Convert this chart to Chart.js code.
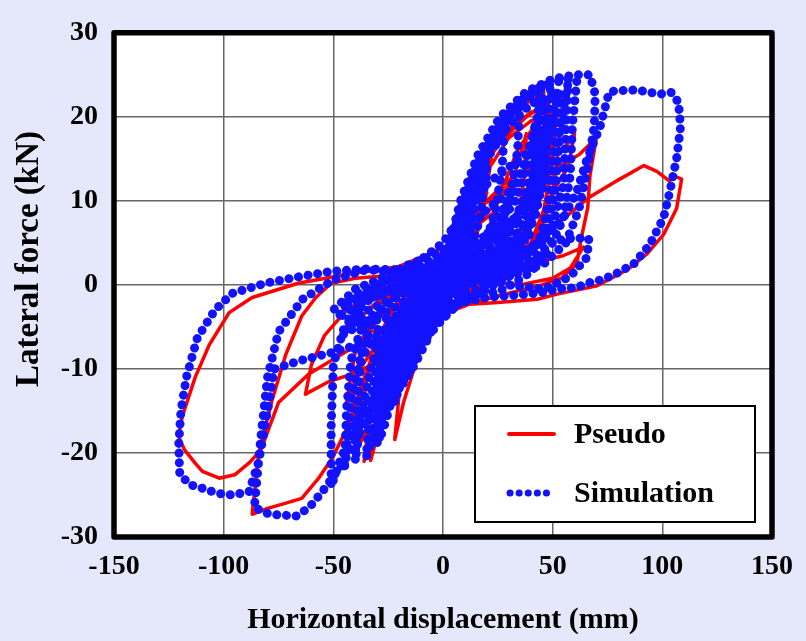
<!DOCTYPE html>
<html>
<head>
<meta charset="utf-8">
<script src="https://cdn.jsdelivr.net/npm/chart.js@4.4.1/dist/chart.umd.min.js"></script>
<style>
  body { margin: 0; background: #e5e8fa; }
  #wrap { width: 806px; height: 641px; }
</style>
</head>
<body>
<div id="wrap"><canvas id="hystChart" width="806" height="641"></canvas></div>
<script>
// Axis ticks
const xTicks = [-150, -100, -50, 0, 50, 100, 150];
const yTicks = [-30, -20, -10, 0, 10, 20, 30];

// Pseudo-dynamic test, [displacement mm, force kN]
const pseudoSmall = [[0,0],[3,2],[6,4.5],[8,6],[6,3.5],[3,1],[0,-0.5],[-3,-2],[-6,-4],[-8,-5.5],[-6,-3],[-3,-1],[0,0.5],
  [5,3.5],[10,7.5],[14,10.5],[12,6],[8,2.5],[3,0.5],[0,-0.5],[-5,-3],[-10,-6.5],[-14,-9],[-12,-5],[-8,-2],[-3,0],[0,1]];
const pseudoCenter = [[6,6],[12,9],[10,5],[5,2],[0,-1],[-6,-4],[-12,-7.5],[-16,-10],[-13,-5],[-8,-2],[-2,1],[4,4]];
const pseudoFill1 = [[-35,-3],[-20,-1],[-5,1.5],[5,4],[15,7],[25,9],[18,5],[8,1],[-2,-3],[-12,-6],[-22,-8],[-30,-6],
  [-38,-4],[-28,-1.5],[-15,0.5],[0,3]];
const pseudoMid1 = [[6,5],[12,9.5],[18,13],[22,15],[19,10],[15,5.5],[10,2.5],[4,0.8],[0,0],[-6,-3],[-12,-7],[-18,-11],
  [-22,-14],[-19,-9],[-15,-5],[-9,-2],[-3,0],[0,1.5]];
const pseudoSlip2 = [[8,5],[18,8],[27,10.5],[33,13.5],[38,18],[37,12.5],[34,8],[27,4.5],[16,2],[4,0],[-6,-2.5],[-14,-5],
  [-20,-8],[-25,-12],[-28,-16],[-27,-11],[-24,-6.5],[-17,-3],[-8,-0.5],[0,1.5]];
const pseudoMid2 = [[5,5],[10,9],[16,13],[21,16.9],[28,19.5],[34,20.8],[40,22],[46,22.9],[42,19],[34,16.1],[26,10.7],
  [20,6],[12,3],[4,1],[0,0],[-8,-3],[-16,-8],[-24,-13.5],[-30,-18],[-33,-20.9],[-30,-15],[-26,-10],[-20,-5.5],[-12,-2.5],[-4,0],[2,2]];
const pseudoFill2 = [[20,3],[10,0],[0,-2],[-10,-4.5],[-20,-7],[-10,-3.5],[0,-0.5],[12,2],[25,4],[38,5.5],[28,2],[15,0],
  [0,-3.5],[-8,-6],[-3,-4],[8,-1.5],[20,0],[32,1.5]];
const pseudoSpike60 = [[10,6.5],[20,10],[30,12.5],[40,14],[50,15.5],[56,16.5],[60,18],[57,14],[51,11.5],[45,7],[38,4],
  [28,1.5],[15,-0.5],[5,-2],[-5,-4.5],[-12,-9],[-18,-14],[-22,-18.4],[-20,-13],[-16,-8],[-10,-4],[-3,-1],[2,1.5]];
const pseudoSlip1 = [[10,4],[22,6],[32,8],[40,11],[46,15],[50,20],[49,14],[46,8],[40,4.5],[28,2],[14,0],[0,-2],
  [-12,-4],[-24,-6],[-33,-9],[-38,-12.5],[-42,-17],[-40,-11],[-36,-6.5],[-28,-3.5],[-15,-1],[0,2]];
const pseudoSpike70 = [[8,6],[18,9.5],[30,11.5],[45,13],[56,14.5],[62,15.5],[66,16.5],[70,17.6],[67,13],[66,9.2],[63,5.5],
  [61,2.5],[54,0.8],[45,0],[30,-1],[15,-2],[0,-3.5],[-12,-6],[-25,-8.5],[-40,-10.5],[-52,-11.5],[-62.7,-13],[-60,-9.5],
  [-54,-6],[-44,-3],[-30,-0.8],[-15,1],[0,3]];
const pseudoMid3 = [[8,8],[16,13],[24,16.5],[32,19],[40,20.5],[48,21.5],[46,16],[42,10],[36,6],[26,3],[12,0.5],[0,-1.5],
  [-10,-4],[-20,-9],[-28,-14],[-34,-19],[-36,-21],[-33,-15],[-28,-9],[-20,-4.5],[-10,-1.5],[0,1]];
const pseudoFill3 = [[-10,-2],[-20,-4],[-30,-7],[-38,-10],[-44,-14],[-40,-8],[-34,-5],[-25,-3],[-15,-2],[-24,-7],
  [-30,-12],[-32,-16],[-29,-10],[-24,-5.5],[-14,-2.5],[0,0.5]];
const pseudoLoop87 = [[10,8],[20,13.5],[30,17.5],[40,19.5],[52,20.5],[50,15],[46,9],[40,5],[30,3],[15,2.5],[0,1.5],
  [-20,1.2],[-40,0.8],[-51,0.2],[-58,-1.5],[-64.4,-3.7],[-71.7,-8.3],[-78,-13.8],[-84,-20],[-87,-27.3],[-80,-26.6],
  [-72,-26],[-64.4,-25.4],[-56.7,-23],[-50.7,-20.7],[-41.7,-16],[-32.6,-9.5],[-22,-5],[-10,-1.5],[0,1]];
const pseudoMid4 = [[8,8],[16,13],[26,17],[38,20],[50,22],[55,22.5],[53,17],[50,11],[44,6],[35,3],[20,1.5],[5,0],
  [-5,-2],[-15,-6],[-25,-11],[-33,-16],[-38,-19],[-36,-13],[-32,-7.5],[-24,-3.5],[-12,0],[0,3]];
const pseudoHook = [[10,4],[25,3],[40,2.5],[55,3.5],[64,4.5],[58,2],[50,0.8],[35,0],[20,0.5],[10,3]];
const pseudoFinal = [[20,11],[12,7],[1,4.5],[-20,2.2],[-45,1.2],[-66,0.2],[-87,-1.5],[-97.5,-3.3],[-106.5,-7.1],
  [-113,-11],[-118.8,-15.6],[-120.6,-18],[-117.9,-19.6],[-113,-21.2],[-109.7,-22.2],[-102,-23],[-95,-22.6],[-88,-21.1],
  [-83,-19.6],[-75,-14],[-61.2,-10.6],[-49,-8.7],[-35,-6.5],[-20,-4.5],[-8,-3],[0,-2.5],[25,-2.1],[43,-1.7],[52,-1.1],
  [70.3,-0.1],[84,1.8],[93,3.7],[100.6,6],[106.5,9.1],[108.8,12.6],[106,12.9],[103,12.4],[97.5,13.5],[91.6,14.2],
  [80,12.5],[66,10.3],[52,7.2],[40,4.5],[25,2],[10,0],[0,-1]];

// Simulation, [displacement mm, force kN]
const simSmall = [[0,0],[4,3],[8,6.5],[10,8],[8,4.5],[4,1.5],[0,0],[-4,-2.5],[-8,-5.5],[-10,-7],[-8,-4],[-4,-1.5],[0,0.5],
  [6,5],[12,10],[16,13],[14,8.5],[10,4],[5,1.5],[0,0],[-6,-3.5],[-12,-8],[-16,-11],[-14,-6.5],[-9,-2.5],[-3,0],[0,1.5]];
const simCenter = [[8,9],[14,12],[12,6],[6,2],[0,-1.5],[-6,-4.5],[-12,-8],[-18,-11.5],[-15,-6],[-10,-3],[-4,0.5],[2,4],
  [10,9.5],[18,13.5],[20,14],[17,8],[12,3.5],[5,0],[0,-2.5],[-8,-7],[-14,-10],[-20,-12.5],[-16,-6],[-10,-2],[-4,1.5],[0,3]];
const simFill1 = [[-40,-2],[-25,-1],[-10,1],[0,3],[10,6],[20,9],[30,11],[25,6],[15,2],[5,-1],[-5,-4],[-15,-6.5],
  [-25,-8],[-35,-6],[-40,-3],[-30,0],[-15,2],[0,5],[10,9],[20,13]];
const simMid1 = [[6,6],[12,11],[20,16],[28,19.5],[35,21.5],[34,16],[31,11],[27,7],[20,4],[10,2],[0,0.5],[-8,-3],
  [-15,-7],[-22,-12],[-26,-16],[-24,-10],[-20,-5.5],[-13,-2.5],[-5,-0.5],[0,1.5]];
const simFill2 = [[15,6],[5,1],[-5,-3],[-15,-5],[-25,-6],[-35,-4.5],[-45,-2],[-35,-1],[-20,-0.5],[-10,0],[0,1],[15,3],
  [30,5],[40,6],[30,3.5],[15,0.5],[0,-3],[-10,-6],[-20,-8.5],[-10,-6],[0,-4],[10,-1.5],[25,0.5],[35,2]];
const simFill4 = [[25,3],[12,2],[0,2],[-10,1.5],[-20,0.5],[-30,-1],[-40,-2.5],[-48,-4],[-42,-1.5],[-32,0],[-20,1],[-8,2.5],
  [0,4],[8,7],[0,2.5],[-12,-1],[-24,-3],[-36,-4.5],[-46,-6],[-38,-3.5],[-26,-2],[-14,-0.5],[-4,1],[5,3]];
const simMid2 = [[8,8],[15,13],[22,17],[28,19],[27,14],[24,9],[20,5.5],[12,2.5],[4,0.5],[0,-0.5],[-6,-3],[-12,-6.5],
  [-18,-10.5],[-22,-14],[-20,-9],[-16,-5],[-10,-2],[-4,0],[0,1]];
const simSlip2 = [[5,2],[15,4.5],[25,7],[33,10],[38,14],[42,19],[46,22],[45,16],[43,10],[38,6],[28,3],[15,1],[0,-0.5],
  [-10,-2],[-20,-3.5],[-28,-6],[-33,-10],[-37,-15],[-40,-21],[-39,-14],[-37,-8],[-32,-4],[-22,-1.5],[-10,0.5],[0,2]];
const simFill3 = [[25,1],[15,-1],[5,-2.5],[-5,-5],[-15,-8],[-25,-9],[-15,-5],[-5,-1.5],[5,2],[15,5],[25,7],[35,8],
  [25,4],[12,1],[0,-1],[-12,-3],[-25,-4],[-40,-4.5],[-50,-3],[-40,-0.5],[-28,0.8],[-15,2.5],[0,4],[10,7]];
const simFill5 = [[0,-3],[10,-2],[20,-0.5],[30,1],[40,2.5],[48,4],[40,1.5],[28,-0.5],[15,-1.5],[5,-1],[15,1.5],[25,3.5],
  [35,5.5],[28,2.5],[18,0],[8,-2],[0,-4],[-8,-6.5],[-16,-9],[-8,-5],[0,-2]];
const simMid3 = [[5,5],[10,10],[18,15.5],[27,19.5],[36,22],[44,23.5],[49,24],[48,19],[46,13],[42,8],[36,5],[26,3],
  [14,1.5],[0,0],[-8,-2.5],[-16,-6.5],[-24,-12],[-30,-16.5],[-35,-20.5],[-33,-14],[-30,-9],[-25,-5],[-16,-2],[-6,0],[0,2]];
const simFill6 = [[10,8],[20,12],[30,14],[40,16],[45,18],[40,12],[33,8],[25,5],[35,9],[42,14],[48,20],[46,13],[40,8],
  [30,5],[20,3],[10,1],[20,6],[30,10],[38,15],[43,20],[41,14],[36,9],[28,6],[18,3],[8,1]];
const simSlip1 = [[10,3],[20,5],[30,7],[40,10],[46,15],[50,20],[52,23],[51,17],[49,11],[45,6],[38,3.5],[25,2],[10,0.5],
  [0,-1],[-10,-2.5],[-20,-4],[-30,-6],[-38,-9],[-42,-14],[-45,-22],[-44,-15],[-42,-9],[-37,-5],[-28,-2.5],[-15,-0.5],[0,1.5]];
const simMid4 = [[6,6],[14,12],[22,16.5],[32,20.5],[40,22.5],[44,23],[43,18],[41,12],[37,7.5],[30,4.5],[20,2.5],[8,0.5],
  [0,-1],[-8,-3.5],[-16,-8],[-22,-12.5],[-27,-17],[-29,-18.5],[-28,-13],[-25,-8],[-18,-4],[-9,-1],[0,1.5]];
const simLoop61 = [[8,9],[16,14.5],[26,19],[38,22.5],[50,24],[57,24.5],[61,24.3],[59,19],[58,13],[55,8],[50,5],[40,3],
  [25,1.5],[10,0],[0,-1],[-10,-4],[-20,-8],[-30,-12],[-40,-16.5],[-47,-21],[-51,-24],[-51,-17],[-50,-9.5],[-45,-5],
  [-35,-2],[-20,0],[-5,2],[0,3.5]];
const simSlip3 = [[10,3.5],[25,6.5],[38,9],[47,12],[52,17],[57,24],[56,18],[55,12],[50,7],[40,4],[25,2],[10,0],[0,-1.5],
  [-10,-4],[-18,-7.5],[-24,-12],[-28,-16],[-30,-19],[-29,-13],[-26,-8],[-20,-4],[-10,-1],[0,1]];
const simMid5 = [[10,9],[20,15],[30,19],[40,21.5],[52,23],[54,22.5],[53,17],[51,11],[47,6.5],[40,4],[28,2],[14,0.5],
  [0,-1.5],[-10,-4.5],[-20,-10],[-28,-15],[-32,-18.5],[-31,-13],[-28,-8],[-20,-3.5],[-10,-0.5],[0,2]];
const simLoop67 = [[8,10],[16,15.5],[26,20],[38,23],[50,24.5],[60,25],[67,25],[69.4,22.7],[69,19],[66,14],[62,9],[56,5],
  [46,2.5],[30,1],[15,0.5],[0,1],[-20,1.5],[-35,1.8],[-50,0.6],[-64,-1.7],[-75,-5.6],[-80,-11],[-83,-18],[-86,-26.5],
  [-79,-27.3],[-67,-27.5],[-61,-26.5],[-55,-24.6],[-45,-21],[-35,-16],[-25,-10],[-15,-5],[-5,-1.5],[0,1]];
const simHook = [[10,2],[25,3.5],[40,4.5],[52,5.3],[60,5.6],[66.5,5.5],[65.7,3.3],[58,1],[46,-0.5],[30,0],[15,1],[0,1.5]];
const simFinal = [[-20,1.8],[-35,1.9],[-51,1.6],[-65,1],[-81,0.2],[-96,-1],[-104,-3],[-112,-6.3],[-117,-11],[-119.5,-15],
  [-120.5,-19],[-120,-22.6],[-115,-23.8],[-109.7,-24.2],[-103,-24.8],[-96,-25],[-88.4,-24.6],[-84,-21],[-80,-15],
  [-77,-10],[-65,-9],[-50,-8],[-35,-6.8],[-20,-5.6],[-10,-4],[0,-2.5],[20,-1.5],[35,-1.2],[46,-0.9],[52,-0.5],[61,-0.3],
  [65.7,0.2],[72,0.6],[78,1.2],[87,2.5],[94.3,4.8],[100.6,8],[103.4,11.1],[106.5,15],[108.3,18.8],[107.4,21.7],
  [104,22.9],[98.8,22.7],[88.4,23.2],[78.4,23.1],[75.7,22.9],[71.6,18.8],[65.7,15],[61,11.1],[55,8],[45,5],[30,3],
  [15,1.5],[0,0]];

const pseudoPath = [].concat(pseudoSmall, pseudoCenter, pseudoFill1, pseudoMid1, pseudoSlip2, pseudoMid2, pseudoFill2,
  pseudoSpike60, pseudoSlip1, pseudoSpike70, pseudoMid3, pseudoFill3, pseudoLoop87, pseudoMid4, pseudoHook, pseudoFinal);
const simPath = [].concat(simSmall, simCenter, simFill1, simMid1, simFill2, simFill4, simMid2, simSlip2, simFill3,
  simFill5, simMid3, simFill6, simSlip1, simMid4, simLoop61, simSlip3, simMid5, simLoop67, simHook, simFinal);

const toXY = pts => pts.map(p => ({ x: p[0], y: p[1] }));

const serif = "'Liberation Serif', 'Times New Roman', serif";
const RED = '#ff0000';
const BLUE = '#1212ff';

// white plot area
const plotBg = {
    id: 'plotBg',
    beforeDraw(chart) {
        const { ctx, chartArea: a } = chart;
        ctx.save();
        ctx.fillStyle = '#fff';
        ctx.fillRect(a.left, a.top, a.right - a.left, a.bottom - a.top);
        ctx.restore();
    }
};

// thick frame round the plot
const plotFrame = {
    id: 'plotFrame',
    afterDatasetsDraw(chart) {
        const { ctx, chartArea: a } = chart;
        ctx.save();
        ctx.strokeStyle = '#000';
        ctx.lineWidth = 5.5;
        ctx.lineJoin = 'round';
        ctx.strokeRect(a.left, a.top, a.right - a.left, a.bottom - a.top);
        ctx.restore();
    }
};

// y axis title, sits a bit above the middle of the axis in the original
const yTitle = {
    id: 'yTitle',
    afterDraw(chart) {
        const { ctx } = chart;
        ctx.save();
        ctx.translate(29, 259);
        ctx.rotate(-Math.PI / 2);
        ctx.fillStyle = '#000';
        ctx.font = 'bold 33px ' + serif;
        ctx.textAlign = 'center';
        ctx.textBaseline = 'middle';
        ctx.fillText('Lateral force (kN)', 0, 0);
        ctx.restore();
    }
};

// legend box inside the plot, lower right
const legendBox = {
    id: 'legendBox',
    afterDraw(chart) {
        const { ctx, chartArea: a } = chart;
        const x0 = a.right - 297, y0 = a.bottom - 131, w = 280, h = 116;
        ctx.save();
        ctx.fillStyle = '#fff';
        ctx.fillRect(x0, y0, w, h);
        ctx.strokeStyle = '#000';
        ctx.lineWidth = 2;
        ctx.strokeRect(x0, y0, w, h);

        ctx.strokeStyle = RED;
        ctx.lineWidth = 4;
        ctx.lineCap = 'round';
        ctx.beginPath();
        ctx.moveTo(x0 + 34, y0 + 28);
        ctx.lineTo(x0 + 79, y0 + 28);
        ctx.stroke();

        ctx.strokeStyle = BLUE;
        ctx.lineWidth = 7;
        ctx.setLineDash([0.1, 9]);
        ctx.beginPath();
        ctx.moveTo(x0 + 35, y0 + 87);
        ctx.lineTo(x0 + 80, y0 + 87);
        ctx.stroke();
        ctx.setLineDash([]);

        ctx.fillStyle = '#000';
        ctx.font = 'bold 30px ' + serif;
        ctx.textBaseline = 'middle';
        ctx.fillText('Pseudo', x0 + 99, y0 + 29);
        ctx.fillText('Simulation', x0 + 99, y0 + 88);
        ctx.restore();
    }
};

const ctx = document.getElementById('hystChart').getContext('2d');
new Chart(ctx, {
    type: 'scatter',
    data: {
        datasets: [{
            label: 'Pseudo',
            data: toXY(pseudoPath),
            showLine: true,
            borderColor: RED,
            borderWidth: 3.5,
            borderJoinStyle: 'round',
            pointRadius: 0,
            tension: 0,
            order: 2
        }, {
            label: 'Simulation',
            data: toXY(simPath),
            showLine: true,
            borderColor: BLUE,
            borderWidth: 9,
            borderDash: [0.1, 9.6],
            borderCapStyle: 'round',
            borderJoinStyle: 'round',
            pointRadius: 0,
            tension: 0,
            order: 1
        }]
    },
    options: {
        responsive: false,
        animation: false,
        layout: { padding: { top: 20.5, right: 30, left: 0, bottom: 0 } },
        plugins: {
            legend: { display: false },
            tooltip: { enabled: false }
        },
        scales: {
            x: {
                type: 'linear',
                min: xTicks[0],
                max: xTicks[xTicks.length - 1],
                afterBuildTicks: s => { s.ticks = xTicks.map(v => ({ value: v })); },
                afterFit: s => { s.height = 104; },
                grid: { color: '#666', lineWidth: 1.5, drawTicks: false },
                border: { display: false },
                ticks: { color: '#000', padding: 13, maxRotation: 0, autoSkip: false,
                    font: { family: serif, size: 28, weight: 'bold' } },
                title: { display: true, text: 'Horizontal displacement (mm)', color: '#000',
                    padding: { top: 0, bottom: 3 },
                    font: { family: serif, size: 30, weight: 'bold' } }
            },
            y: {
                type: 'linear',
                min: yTicks[0],
                max: yTicks[yTicks.length - 1],
                afterBuildTicks: s => { s.ticks = yTicks.map(v => ({ value: v })); },
                afterFit: s => { s.width = 114; },
                grid: { color: '#666', lineWidth: 1.5, drawTicks: false },
                border: { display: false },
                ticks: { color: '#000', padding: 16,
                    font: { family: serif, size: 28, weight: 'bold' } }
            }
        }
    },
    plugins: [plotBg, plotFrame, yTitle, legendBox]
});
</script>
</body>
</html>
